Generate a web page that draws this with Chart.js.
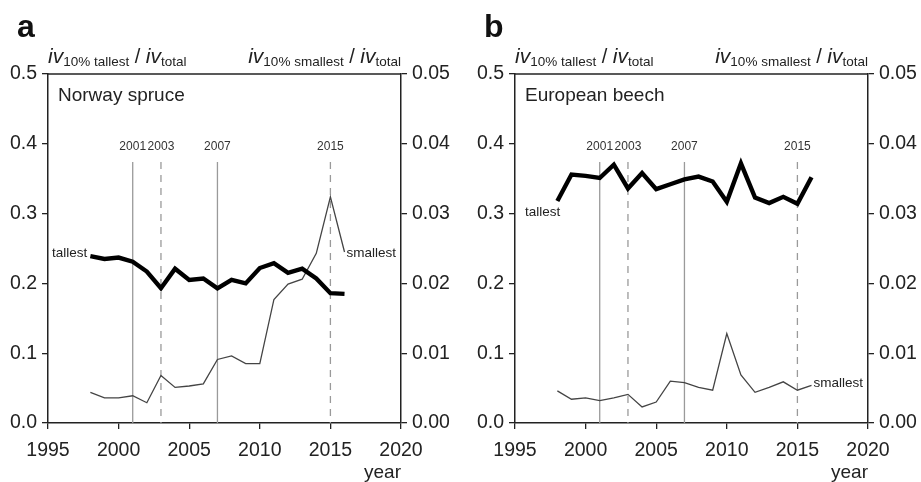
<!DOCTYPE html>
<html lang="en">
<head>
<meta charset="UTF-8">
<title>Increment share of tallest and smallest trees</title>
<script src="https://cdn.jsdelivr.net/npm/chart.js"></script>
<style>
    body { margin: 0; background: #fff; font-family: "Liberation Sans", Arial, sans-serif; }
    .wrap { position: relative; width: 921px; height: 482px; overflow: hidden; }
    canvas { position: absolute; top: 0; }
    #chart-a { left: 0; }
    #chart-b { left: 460px; }
</style>
</head>
<body>
<div class="wrap">
    <canvas id="chart-a" width="460" height="482"></canvas>
    <canvas id="chart-b" width="461" height="482"></canvas>
</div>
<script>
    // Data
    const years = [1998, 1999, 2000, 2001, 2002, 2003, 2004, 2005, 2006, 2007, 2008, 2009, 2010, 2011, 2012, 2013, 2014, 2015, 2016];
    const spruceTallest  = [0.239, 0.235, 0.237, 0.231, 0.217, 0.193, 0.221, 0.205, 0.207, 0.193, 0.205, 0.200, 0.222, 0.229, 0.215, 0.221, 0.207, 0.186, 0.185];
    const spruceSmallest = [0.0044, 0.0036, 0.0036, 0.0039, 0.0029, 0.0068, 0.0051, 0.0053, 0.0056, 0.0091, 0.0096, 0.0085, 0.0085, 0.0177, 0.0199, 0.0206, 0.0243, 0.0324, 0.0245];
    const beechTallest   = [0.318, 0.356, 0.354, 0.351, 0.370, 0.336, 0.358, 0.335, 0.342, 0.349, 0.353, 0.346, 0.317, 0.372, 0.323, 0.315, 0.324, 0.314, 0.352];
    const beechSmallest  = [0.0046, 0.0034, 0.0036, 0.0032, 0.0036, 0.0041, 0.0023, 0.0030, 0.0060, 0.0058, 0.0051, 0.0047, 0.0128, 0.0069, 0.0044, 0.0051, 0.0059, 0.0047, 0.0054];

    const eventYears  = [2001, 2003, 2007, 2015];
    const eventDashed = [false, true, false, true];

    const xTicks = [1995, 2000, 2005, 2010, 2015, 2020];
    const leftTicks = [0, 0.1, 0.2, 0.3, 0.4, 0.5];
    const rightTicks = [0, 0.01, 0.02, 0.03, 0.04, 0.05];

    const FONT = '"Liberation Sans", Arial, sans-serif';
    const INK = '#222';

    function pts(vals) {
        return vals.map((v, i) => ({ x: years[i], y: v }));
    }

    // header like "iv_10% tallest / iv_total"
    function drawHeader(ctx, x, y, sub, alignRight) {
        const parts = [
            ['iv', 'italic 21px ' + FONT, 0],
            [sub, '13.5px ' + FONT, 3],
            [' / ', '20px ' + FONT, 0],
            ['iv', 'italic 21px ' + FONT, 0],
            ['total', '13.5px ' + FONT, 3]
        ];
        let total = 0;
        parts.forEach(p => { ctx.font = p[1]; total += ctx.measureText(p[0]).width; });
        let cx = alignRight ? x - total : x;
        ctx.textAlign = 'left';
        ctx.textBaseline = 'alphabetic';
        parts.forEach(p => {
            ctx.font = p[1];
            ctx.fillText(p[0], cx, y + p[2]);
            cx += ctx.measureText(p[0]).width;
        });
    }

    function makeDecor(panel) {
        return {
            id: 'decor',
            beforeDatasetsDraw(chart) {
                const ctx = chart.ctx, area = chart.chartArea, xs = chart.scales.x;
                ctx.save();
                eventYears.forEach((yr, i) => {
                    const px = xs.getPixelForValue(yr);
                    ctx.strokeStyle = '#9a9a9a';
                    ctx.lineWidth = 1.3;
                    ctx.setLineDash(eventDashed[i] ? [7, 6] : []);
                    ctx.beginPath();
                    ctx.moveTo(px, 162);
                    ctx.lineTo(px, area.bottom);
                    ctx.stroke();
                    ctx.setLineDash([]);
                    ctx.fillStyle = '#333';
                    ctx.font = '12px ' + FONT;
                    ctx.textAlign = 'center';
                    ctx.textBaseline = 'middle';
                    ctx.fillText(String(yr), px, 147);
                });
                ctx.restore();
            },
            afterDraw(chart) {
                const ctx = chart.ctx, area = chart.chartArea;
                ctx.save();
                // top frame line
                ctx.strokeStyle = INK;
                ctx.lineWidth = 1.5;
                ctx.beginPath();
                ctx.moveTo(area.left, area.top);
                ctx.lineTo(area.right, area.top);
                ctx.stroke();

                ctx.fillStyle = '#111';
                ctx.font = 'bold 32px ' + FONT;
                ctx.textAlign = 'left';
                ctx.textBaseline = 'alphabetic';
                ctx.fillText(panel.letter, area.left - 31, 37);

                ctx.fillStyle = INK;
                drawHeader(ctx, area.left, 63, '10% tallest', false);
                drawHeader(ctx, area.right, 63, '10% smallest', true);

                ctx.font = '19px ' + FONT;
                ctx.textBaseline = 'middle';
                ctx.fillText(panel.species, area.left + 10, 96);

                // series end labels
                ctx.font = '13.5px ' + FONT;
                const tall = chart.getDatasetMeta(0).data[0];
                ctx.textAlign = 'right';
                ctx.fillText('tallest', tall.x + panel.tallDx, tall.y + panel.tallDy);
                const sm = chart.getDatasetMeta(1).data;
                const last = sm[sm.length - 1];
                ctx.textAlign = 'left';
                ctx.fillText('smallest', last.x + 2, last.y + panel.smallDy);
                ctx.restore();
            }
        };
    }

    function fixedWidth(w) { return scale => { scale.width = w; }; }

    function makeChart(id, panel, tallest, smallest) {
        const tickFont = { family: FONT, size: 19.5 };
        return new Chart(document.getElementById(id), {
            type: 'line',
            data: {
                datasets: [
                    { data: pts(tallest), yAxisID: 'y', borderColor: '#000', borderWidth: 4.4, pointRadius: 0, tension: 0, borderJoinStyle: 'miter' },
                    { data: pts(smallest), yAxisID: 'y2', borderColor: '#444', borderWidth: 1.3, pointRadius: 0, tension: 0 }
                ]
            },
            options: {
                responsive: false,
                animation: false,
                devicePixelRatio: 1,
                layout: { padding: { top: 74, left: 0, right: 0, bottom: 0 } },
                plugins: { legend: { display: false }, tooltip: { enabled: false } },
                scales: {
                    x: {
                        type: 'linear', min: 1995, max: 2020,
                        afterBuildTicks: s => { s.ticks = xTicks.map(v => ({ value: v })); },
                        afterFit: s => { s.height = 59; },
                        ticks: { font: tickFont, color: INK, padding: 10, maxRotation: 0, callback: v => String(v) },
                        grid: { drawOnChartArea: false, color: INK, tickLength: 6, lineWidth: 1.3 },
                        border: { color: INK, width: 1.5 },
                        title: { display: true, text: 'year', align: 'end', color: INK, font: { family: FONT, size: 19 }, padding: { top: 0, bottom: -2 } }
                    },
                    y: {
                        position: 'left', min: 0, max: 0.5,
                        afterBuildTicks: s => { s.ticks = leftTicks.map(v => ({ value: v })); },
                        afterFit: fixedWidth(panel.leftW),
                        ticks: { font: tickFont, color: INK, padding: 5, callback: v => v.toFixed(1) },
                        grid: { drawOnChartArea: false, color: INK, tickLength: 6, lineWidth: 1.3 },
                        border: { color: INK, width: 1.5 }
                    },
                    y2: {
                        position: 'right', min: 0, max: 0.05,
                        afterBuildTicks: s => { s.ticks = rightTicks.map(v => ({ value: v })); },
                        afterFit: fixedWidth(panel.rightW),
                        ticks: { font: tickFont, color: INK, padding: 5, callback: v => v.toFixed(2) },
                        grid: { drawOnChartArea: false, color: INK, tickLength: 6, lineWidth: 1.3 },
                        border: { color: INK, width: 1.5 }
                    }
                }
            },
            plugins: [makeDecor(panel)]
        });
    }

    makeChart('chart-a', { letter: 'a', species: 'Norway spruce', leftW: 48, rightW: 59, tallDx: -3, tallDy: -3, smallDy: 1 }, spruceTallest, spruceSmallest);
    makeChart('chart-b', { letter: 'b', species: 'European beech', leftW: 55, rightW: 53, tallDx: 3, tallDy: 11, smallDy: -2 }, beechTallest, beechSmallest);
</script>
</body>
</html>
